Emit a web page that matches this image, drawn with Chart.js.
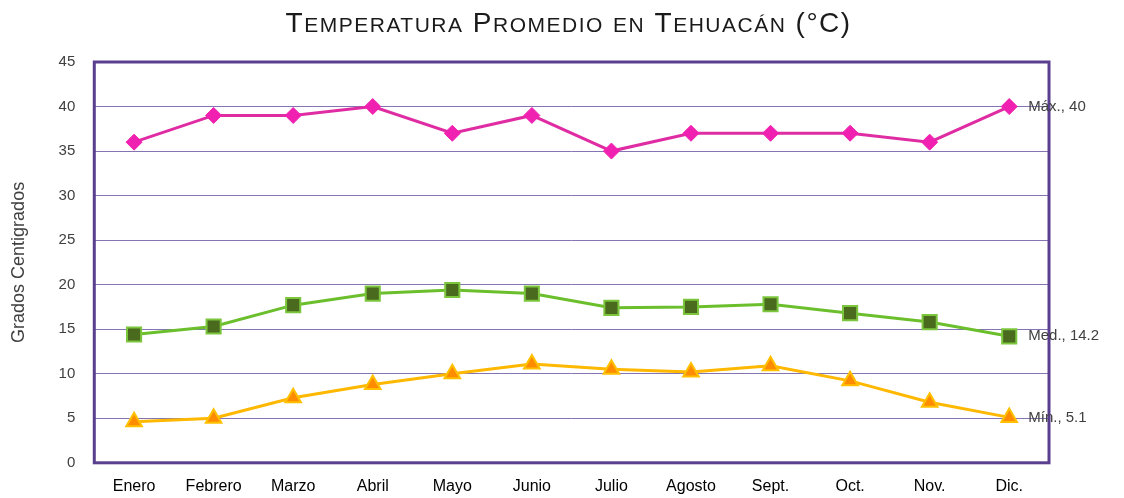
<!DOCTYPE html>
<html>
<head>
<meta charset="utf-8">
<script src="https://cdn.jsdelivr.net/npm/chart.js@4"></script>
<style>
  body { margin: 0; background: #fff; overflow: hidden; }
</style>
</head>
<body>
<canvas id="tempChart" width="1124" height="498"></canvas>
<script>
// Temperature data
const months = ['Enero', 'Febrero', 'Marzo', 'Abril', 'Mayo', 'Junio', 'Julio', 'Agosto', 'Sept.', 'Oct.', 'Nov.', 'Dic.'];
const maxTemp = [36, 39, 39, 40, 37, 39, 35, 37, 37, 37, 36, 40];
const medTemp = [14.4, 15.3, 17.7, 19.0, 19.4, 19.0, 17.4, 17.5, 17.8, 16.8, 15.8, 14.2];
const minTemp = [4.6, 5.0, 7.3, 8.8, 10.0, 11.1, 10.5, 10.2, 10.9, 9.2, 6.8, 5.1];
const seriesNames = ['Máx.', 'Med.', 'Mín.'];
const chartTitle = 'Temperatura Promedio en Tehuacán (°C)';

const fontFam = '"Liberation Sans", Arial, sans-serif';

// frame round the plot area
const frame = {
    id: 'frame',
    afterDraw(chart) {
        const a = chart.chartArea;
        const ctx = chart.ctx;
        ctx.save();
        ctx.strokeStyle = '#5a3f8e';
        ctx.lineWidth = 3;
        ctx.strokeRect(a.left, a.top, a.right - a.left, a.bottom - a.top);
        ctx.restore();
    }
};

// "Máx., 40" style labels at last point
const endLabels = {
    id: 'endLabels',
    afterDraw(chart) {
        const ctx = chart.ctx;
        ctx.save();
        ctx.font = '15px ' + fontFam;
        ctx.fillStyle = '#404040';
        ctx.textBaseline = 'middle';
        chart.data.datasets.forEach((ds, i) => {
            const meta = chart.getDatasetMeta(i);
            const last = meta.data[meta.data.length - 1];
            const v = ds.data[ds.data.length - 1];
            ctx.fillText(seriesNames[i] + ', ' + v, last.x + 19, last.y);
        });
        ctx.restore();
    }
};

// small caps title (canvas ignores small-caps in font string)
const smallCapsTitle = {
    id: 'smallCapsTitle',
    afterDraw(chart) {
        const ctx = chart.ctx;
        const big = '28px ' + fontFam, small = '21px ' + fontFam;
        const runs = [];
        for (const ch of chartTitle) {
            const isLower = ch !== ch.toUpperCase();
            const f = isLower ? small : big;
            const t = ch.toUpperCase();
            if (runs.length && runs[runs.length - 1].f === f) runs[runs.length - 1].t += t;
            else runs.push({ f: f, t: t });
        }
        ctx.save();
        ctx.fillStyle = '#1a1a1a';
        ctx.textBaseline = 'alphabetic';
        ctx.letterSpacing = '1.5px';
        let w = 0;
        runs.forEach(r => { ctx.font = r.f; r.w = ctx.measureText(r.t).width; w += r.w; });
        const a = chart.chartArea;
        let x = (a.left + a.right) / 2 - 3 - w / 2;
        runs.forEach(r => { ctx.font = r.f; ctx.fillText(r.t, x, 32); x += r.w; });
        ctx.restore();
    }
};

const tempChart = new Chart(document.getElementById('tempChart'), {
    type: 'line',
    data: {
        labels: months,
        datasets: [
            {
                label: 'Máx.',
                data: maxTemp,
                borderColor: '#e02ca3',
                backgroundColor: '#f020b0',
                borderWidth: 3,
                pointStyle: 'rectRot',
                pointRadius: 8,
                pointBorderWidth: 1,
                pointBorderColor: '#f020b0',
                pointBackgroundColor: '#f020b0'
            },
            {
                label: 'Med.',
                data: medTemp,
                borderColor: '#6cbf2c',
                backgroundColor: '#4a6a1e',
                borderWidth: 3,
                pointStyle: 'rect',
                pointRadius: 10,
                pointBorderWidth: 2,
                pointBorderColor: '#7cc63e',
                pointBackgroundColor: '#4a6a1e'
            },
            {
                label: 'Mín.',
                data: minTemp,
                borderColor: '#ffb800',
                backgroundColor: '#ff8c00',
                borderWidth: 3,
                pointStyle: 'triangle',
                pointRadius: 9,
                pointBorderWidth: 2,
                pointBorderColor: '#ffc000',
                pointBackgroundColor: '#ff8c00'
            }
        ]
    },
    options: {
        responsive: false,
        animation: false,
        devicePixelRatio: 1,
        layout: {
            autoPadding: false,
            padding: { top: 62, right: 75, bottom: 2, left: 8 }
        },
        plugins: {
            legend: { display: false },
            tooltip: { enabled: false },
            title: { display: false }
        },
        scales: {
            x: {
                offset: true,
                // grid hidden, but tick length keeps the labels off the frame
                grid: { display: false, drawTicks: true, tickLength: 14 },
                border: { display: false },
                ticks: {
                    color: '#000',
                    font: { family: fontFam, size: 16 },
                    padding: 0,
                    maxRotation: 0
                }
            },
            y: {
                min: 0,
                max: 45,
                ticks: {
                    stepSize: 5,
                    color: '#404040',
                    font: { family: fontFam, size: 15 },
                    padding: 19
                },
                grid: { color: '#8474b4', lineWidth: 1, drawTicks: false },
                border: { display: false },
                title: {
                    display: true,
                    text: 'Grados Centigrados',
                    color: '#404040',
                    font: { family: fontFam, size: 18 },
                    padding: { top: 0, bottom: 10 }
                }
            }
        }
    },
    plugins: [frame, endLabels, smallCapsTitle]
});
</script>
</body>
</html>
